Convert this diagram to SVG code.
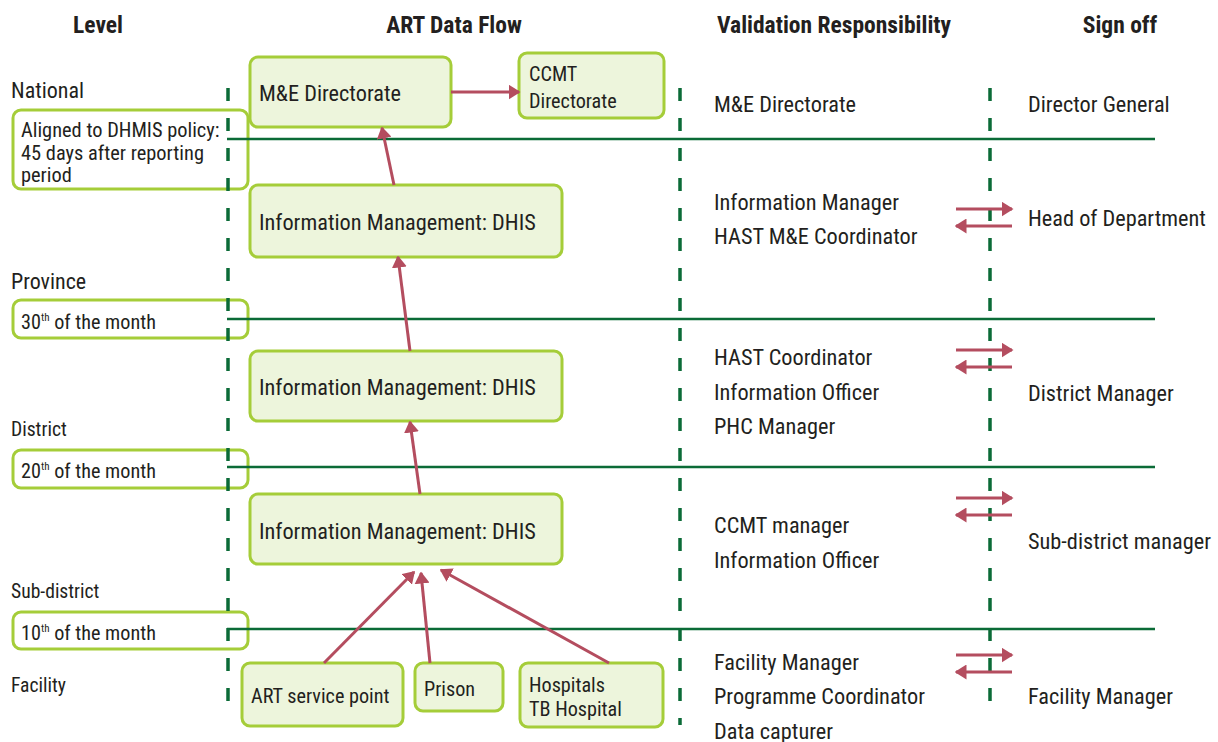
<svg xmlns="http://www.w3.org/2000/svg" width="1218" height="742" viewBox="0 0 1218 742">
<defs>
<style>
text{font-family:"Roboto Condensed","Roboto","Liberation Sans",sans-serif;fill:#231f20;}
.h{font-size:23.5px;font-weight:bold;text-anchor:middle;}
.m{font-size:22.3px;}
.l{font-size:22px;}
.s{font-size:19.6px;}
.a{font-size:20.4px;}
.d{font-size:20.2px;}
.sup{font-size:11px;}
.node{fill:#edf5dc;stroke:#a5cd39;stroke-width:3;}
.lbl{fill:#ffffff;stroke:#a5cd39;stroke-width:3;}
.hl{stroke:#0b6b37;stroke-width:2.5;fill:none;}
.dl{stroke:#0b6b37;stroke-width:3.5;stroke-dasharray:13 17;fill:none;}
.ar{stroke:#b44d5f;stroke-width:3;fill:none;marker-end:url(#ah);}
</style>
<marker id="ah" viewBox="0 0 8 10" refX="7" refY="5" markerWidth="4" markerHeight="5" orient="auto" markerUnits="strokeWidth">
<path d="M0,0 L8,5 L0,10 z" fill="#b44d5f"/>
</marker>
</defs>
<rect width="1218" height="742" fill="#ffffff"/>

<g id="headers">
<text class="h" x="98" y="33">Level</text>
<text class="h" x="454" y="33">ART Data Flow</text>
<text class="h" x="834" y="33">Validation Responsibility</text>
<text class="h" x="1120" y="33">Sign off</text>
</g>

<g id="levels">
<text class="l" x="11" y="98">National</text>
<text class="l" x="11" y="289">Province</text>
<text class="s" x="11" y="436">District</text>
<text class="s" x="11" y="598">Sub-district</text>
<text class="s" x="11" y="692">Facility</text>
</g>

<g id="deadline-national">
<rect class="lbl" x="13" y="110" width="235" height="79" rx="8"/>
<text class="a" x="21" y="137">Aligned to DHMIS policy:</text>
<text class="a" x="21" y="159.5">45 days after reporting</text>
<text class="a" x="21" y="182">period</text>
</g>
<g id="deadline-province">
<rect class="lbl" x="13" y="300" width="235" height="38" rx="8"/>
<text class="d" x="21" y="329">30<tspan class="sup" dy="-8">th</tspan><tspan dy="8"> of the month</tspan></text>
</g>
<g id="deadline-district">
<rect class="lbl" x="13" y="450" width="235" height="38" rx="8"/>
<text class="d" x="21" y="478">20<tspan class="sup" dy="-8">th</tspan><tspan dy="8"> of the month</tspan></text>
</g>
<g id="deadline-subdistrict">
<rect class="lbl" x="13" y="612" width="235" height="37" rx="8"/>
<text class="d" x="21" y="640">10<tspan class="sup" dy="-8">th</tspan><tspan dy="8"> of the month</tspan></text>
</g>

<g id="grid">
<line class="hl" x1="227" y1="139" x2="1155" y2="139"/>
<line class="hl" x1="227" y1="319" x2="1155" y2="319"/>
<line class="hl" x1="227" y1="467" x2="1155" y2="467"/>
<line class="hl" x1="227" y1="629" x2="1155" y2="629"/>
<line class="dl" x1="228" y1="88" x2="228" y2="705"/>
<line class="dl" x1="680" y1="88" x2="680" y2="725"/>
<line class="dl" x1="990" y1="88" x2="990" y2="705"/>
</g>

<g id="me-directorate">
<rect class="node" x="250" y="57" width="201" height="70" rx="8"/>
<text class="m" x="259" y="101">M&amp;E Directorate</text>
</g>
<g id="ccmt-directorate">
<rect class="node" x="519" y="53" width="145" height="65" rx="8"/>
<text class="d" x="529" y="81">CCMT</text>
<text class="d" x="529" y="108">Directorate</text>
</g>
<g id="im-province">
<rect class="node" x="250" y="185" width="312" height="72" rx="8"/>
<text class="m" x="259" y="230">Information Management: DHIS</text>
</g>
<g id="im-district">
<rect class="node" x="250" y="351" width="312" height="70" rx="8"/>
<text class="m" x="259" y="395">Information Management: DHIS</text>
</g>
<g id="im-subdistrict">
<rect class="node" x="250" y="494" width="312" height="70" rx="8"/>
<text class="m" x="259" y="539">Information Management: DHIS</text>
</g>
<g id="art-service-point">
<rect class="node" x="242" y="663" width="161" height="63" rx="8"/>
<text class="d" x="251" y="703">ART service point</text>
</g>
<g id="prison">
<rect class="node" x="415" y="663" width="88" height="48" rx="8"/>
<text class="d" x="424" y="696">Prison</text>
</g>
<g id="hospitals">
<rect class="node" x="520" y="663" width="143" height="64" rx="8"/>
<text class="d" x="529" y="692">Hospitals</text>
<text class="d" x="529" y="716">TB Hospital</text>
</g>

<g id="validation">
<text class="m" x="714" y="112">M&amp;E Directorate</text>
<text class="m" x="714" y="210">Information Manager</text>
<text class="m" x="714" y="244">HAST M&amp;E Coordinator</text>
<text class="m" x="714" y="365">HAST Coordinator</text>
<text class="m" x="714" y="400">Information Officer</text>
<text class="m" x="714" y="434">PHC Manager</text>
<text class="m" x="714" y="533">CCMT manager</text>
<text class="m" x="714" y="568">Information Officer</text>
<text class="m" x="714" y="670">Facility Manager</text>
<text class="m" x="714" y="704">Programme Coordinator</text>
<text class="m" x="714" y="739">Data capturer</text>
</g>

<g id="signoff">
<text class="m" x="1028" y="112">Director General</text>
<text class="m" x="1028" y="226">Head of Department</text>
<text class="m" x="1028" y="401">District Manager</text>
<text class="m" x="1028" y="549">Sub-district manager</text>
<text class="m" x="1028" y="704">Facility Manager</text>
</g>

<g id="connectors">
<line class="ar" x1="451" y1="92" x2="519" y2="92"/>
<line class="ar" x1="394" y1="185" x2="382" y2="128"/>
<line class="ar" x1="410" y1="351" x2="398" y2="257"/>
<line class="ar" x1="420" y1="494" x2="410" y2="422"/>
<line class="ar" x1="324" y1="663" x2="414" y2="572"/>
<line class="ar" x1="430" y1="663" x2="421" y2="573"/>
<line class="ar" x1="609" y1="663" x2="441" y2="570"/>
<line class="ar" x1="956" y1="209" x2="1012" y2="209"/>
<line class="ar" x1="1012" y1="226" x2="956" y2="226"/>
<line class="ar" x1="956" y1="350" x2="1012" y2="350"/>
<line class="ar" x1="1012" y1="367" x2="956" y2="367"/>
<line class="ar" x1="956" y1="498" x2="1012" y2="498"/>
<line class="ar" x1="1012" y1="515" x2="956" y2="515"/>
<line class="ar" x1="956" y1="655" x2="1012" y2="655"/>
<line class="ar" x1="1012" y1="672" x2="956" y2="672"/>
</g>
</svg>
